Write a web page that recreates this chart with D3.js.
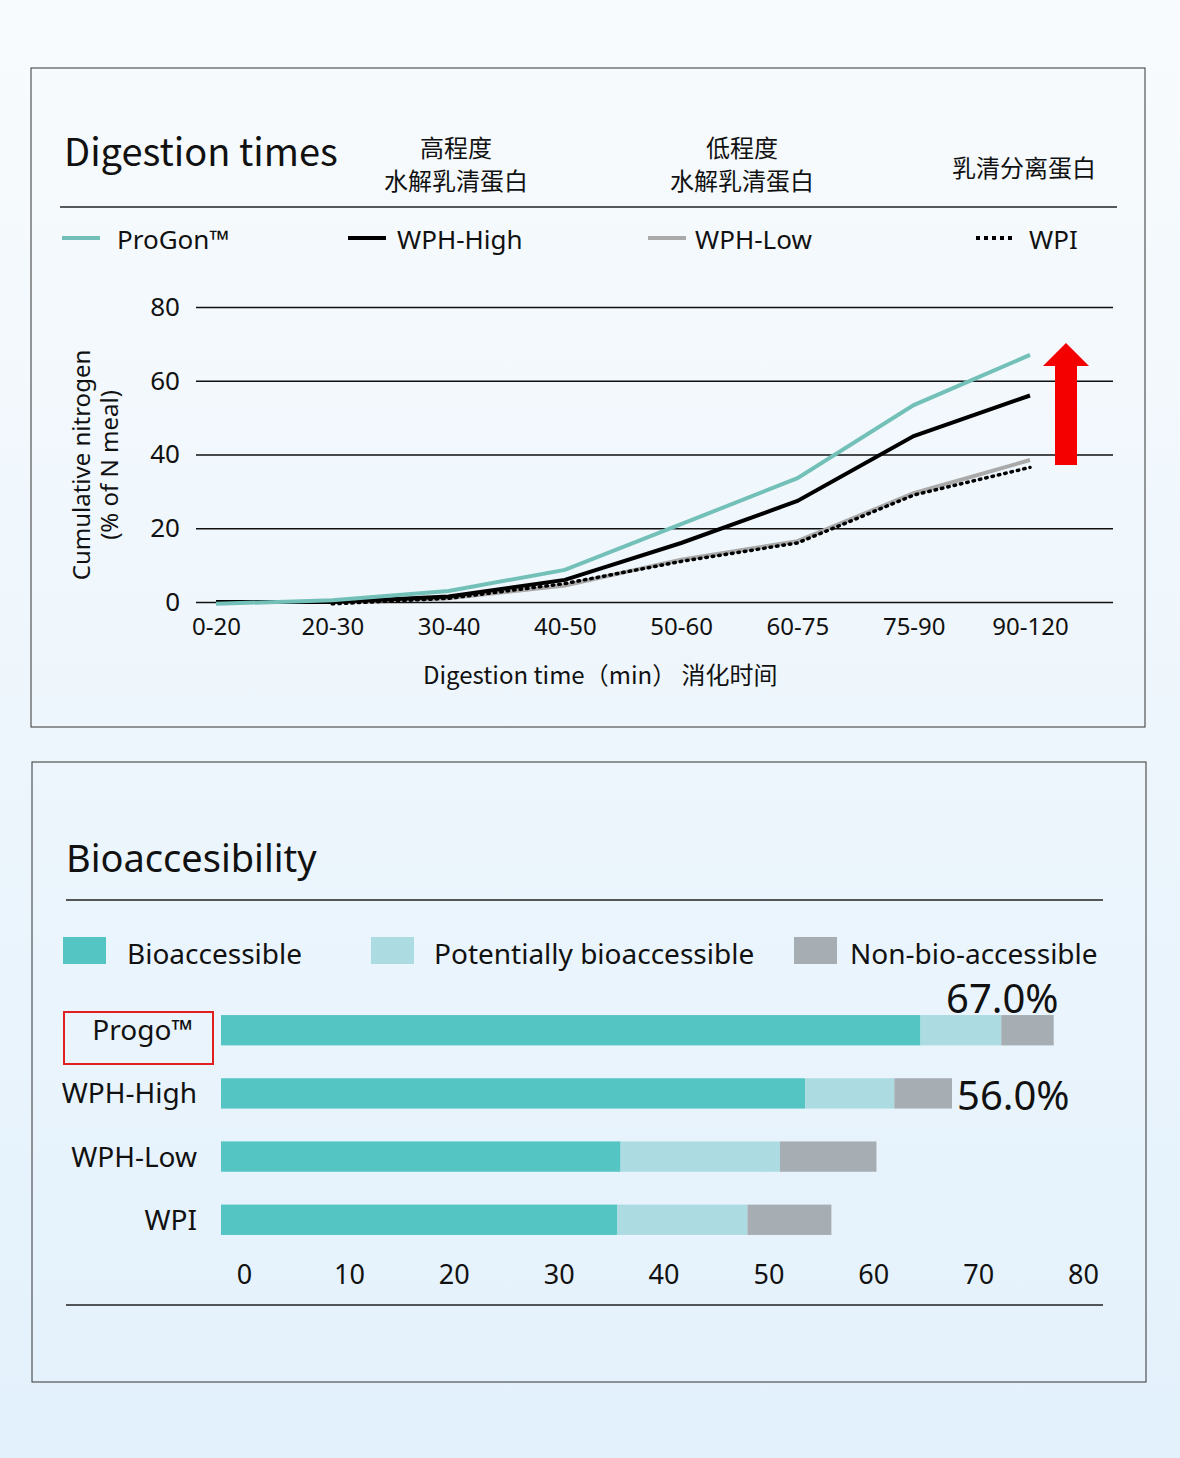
<!DOCTYPE html><html><head><meta charset="utf-8">
<script src="https://cdn.jsdelivr.net/npm/d3@7"></script>
<style>body{margin:0;}svg{display:block;font-family:"Noto Sans CJK SC","Noto Sans",sans-serif;}</style></head><body>
<script>
const timeCats=["0-20","20-30","30-40","40-50","50-60","60-75","75-90","90-120"];
const progon=[-0.5,0.5,3.0,8.7,21.1,33.6,53.4,67];
const wphHigh=[0,0,1.5,6,16,27.4,45,56];
const wphLow=[0,0,1,4.5,11.5,16.5,29.5,38.5];
const wpi=[null,-0.5,1,5,11,16,29,36.5];
const yTicks=[0,20,40,60,80];
const barCats=["Progo™","WPH-High","WPH-Low","WPI"];
const bioacc=[66.7,55.7,38.1,37.8];
const potBio=[7.7,8.5,15.2,12.4];
const nonBio=[5.0,5.5,9.2,8.0];
const xTicks=[0,10,20,30,40,50,60,70,80];

const W=1180,H=1458;
const svg=d3.select("body").append("svg").attr("width",W).attr("height",H);
const defs=svg.append("defs");
const g=defs.append("linearGradient").attr("id","bg").attr("x1",0).attr("y1",0).attr("x2",0).attr("y2",1);
g.append("stop").attr("offset",0).attr("stop-color","#f8fbfd");
g.append("stop").attr("offset",1).attr("stop-color","#e3f1fc");
svg.append("rect").attr("width",W).attr("height",H).attr("fill","url(#bg)");
svg.append("rect").attr("x",31).attr("y",68).attr("width",1114).attr("height",659).attr("fill","none").attr("stroke","#333").attr("stroke-width",1);
svg.append("rect").attr("x",32).attr("y",762).attr("width",1114).attr("height",620).attr("fill","none").attr("stroke","#333").attr("stroke-width",1);

// Panel 1 header
svg.append("text").attr("x",64).attr("y",166).attr("font-size",38).attr("fill","#111").text("Digestion times");
const hdr=[[456,["高程度","水解乳清蛋白"]],[742,["低程度","水解乳清蛋白"]],[1024,["乳清分离蛋白"]]];
hdr.forEach(([x,ls])=>{const y0=ls.length==2?157:177;ls.forEach((l,i)=>svg.append("text").attr("x",x).attr("y",y0+i*33).attr("text-anchor","middle").attr("font-size",24).attr("fill","#111").text(l));});
svg.append("line").attr("x1",60).attr("x2",1117).attr("y1",207).attr("y2",207).attr("stroke","#222").attr("stroke-width",1.5);
const leg=[[62,"ProGon™","#72c0b8",null,117],[348,"WPH-High","#000",null,397],[648,"WPH-Low","#aaa",null,695],[976,"WPI","#000","4,4",1029]];
leg.forEach(([x,t,c,d,tx])=>{svg.append("line").attr("x1",x).attr("x2",x+38).attr("y1",238).attr("y2",238).attr("stroke",c).attr("stroke-width",4).attr("stroke-dasharray",d);
svg.append("text").attr("x",tx).attr("y",249).attr("font-size",26).attr("font-family","Noto Sans").attr("fill","#111").text(t);});

const x=d3.scalePoint().domain(timeCats).range([216,1030]);
const y=d3.scaleLinear().domain([0,80]).range([602,307]);
const ga=svg.append("g").attr("transform","translate(196,0)").call(d3.axisLeft(y).tickValues(yTicks).tickSize(-917).tickPadding(16));
ga.select(".domain").remove();
ga.selectAll(".tick line").attr("stroke","#111").attr("stroke-width",1.5);
ga.selectAll(".tick text").attr("font-size",26).attr("font-family","Noto Sans").attr("fill","#111");
const gx=svg.append("g").attr("transform","translate(0,615)").call(d3.axisBottom(x).tickSize(0));
gx.select(".domain").remove();
gx.selectAll("text").attr("font-size",24).attr("font-family","Noto Sans").attr("fill","#111");
const line=d3.line().defined(d=>d!=null).x((d,i)=>x(timeCats[i])).y(d=>y(d));
svg.append("path").datum(wphLow).attr("d",line).attr("fill","none").attr("stroke","#aaa").attr("stroke-width",4);
svg.append("path").datum(wpi).attr("d",line).attr("fill","none").attr("stroke","#000").attr("stroke-width",3.5).attr("stroke-dasharray","1.5,5").attr("stroke-linecap","round");
svg.append("path").datum(wphHigh).attr("d",line).attr("fill","none").attr("stroke","#000").attr("stroke-width",4);
svg.append("path").datum(progon).attr("d",line).attr("fill","none").attr("stroke","#72c0b8").attr("stroke-width",4);
svg.append("path").attr("d","M1055,465 L1055,366 L1043,366 L1066,343 L1089,366 L1077,366 L1077,465 Z").attr("fill","#f50000");
svg.append("text").attr("transform","translate(90,465) rotate(-90)").attr("text-anchor","middle").attr("font-size",24).attr("font-family","Noto Sans").attr("fill","#111").text("Cumulative nitrogen");
svg.append("text").attr("transform","translate(118,465) rotate(-90)").attr("text-anchor","middle").attr("font-size",24).attr("font-family","Noto Sans").attr("fill","#111").text("(% of N meal)");
svg.append("text").attr("x",423).attr("y",684).attr("font-size",24).attr("fill","#111").text("Digestion time（min）   消化时间");

// Panel 2
svg.append("text").attr("x",66).attr("y",872).attr("font-size",38).attr("font-family","Noto Sans").attr("fill","#111").text("Bioaccesibility");
svg.append("line").attr("x1",66).attr("x2",1103).attr("y1",900).attr("y2",900).attr("stroke","#222").attr("stroke-width",1.5);
const cols=["#55c5c4","#acdce2","#a6adb3"];
const bl=[[63,"Bioaccessible",127],[371,"Potentially bioaccessible",434],[794,"Non-bio-accessible",850]];
bl.forEach(([lx,t,tx],i)=>{svg.append("rect").attr("x",lx).attr("y",937).attr("width",43).attr("height",27).attr("fill",cols[i]);
svg.append("text").attr("x",tx).attr("y",964).attr("font-size",28).attr("font-family","Noto Sans").attr("fill","#111").text(t);});
const bx=d3.scaleLinear().domain([0,80]).range([221,1060]);
const by=d3.scaleBand().domain(barCats).range([1010,1240]).paddingInner(0.52).paddingOuter(0.08);
const stack=barCats.map((c,i)=>[bioacc[i],potBio[i],nonBio[i]]);
barCats.forEach((c,i)=>{let acc=0;stack[i].forEach((v,j)=>{svg.append("rect").attr("x",bx(acc)).attr("y",by(c)).attr("width",bx(acc+v)-bx(acc)).attr("height",by.bandwidth()).attr("fill",cols[j]);acc+=v;});
svg.append("text").attr("x",i==0?193:197).attr("y",by(c)+by.bandwidth()/2+10).attr("text-anchor","end").attr("font-size",28).attr("font-family","Noto Sans").attr("fill","#111").text(c);});
svg.append("rect").attr("x",64).attr("y",1012).attr("width",149).attr("height",52).attr("fill","none").attr("stroke","#e02020").attr("stroke-width",2);
const gb=svg.append("g").attr("transform","translate(23,1262)").call(d3.axisBottom(bx).tickValues(xTicks).tickSize(0));
gb.select(".domain").remove();
gb.selectAll("text").attr("font-size",27).attr("font-family","Noto Sans").attr("fill","#111");
svg.append("text").attr("x",946).attr("y",1013).attr("font-size",40).attr("font-family","Noto Sans").attr("fill","#111").text("67.0%");
svg.append("text").attr("x",957).attr("y",1110).attr("font-size",40).attr("font-family","Noto Sans").attr("fill","#111").text("56.0%");
svg.append("line").attr("x1",66).attr("x2",1103).attr("y1",1305).attr("y2",1305).attr("stroke","#222").attr("stroke-width",1.5);
</script></body></html>
